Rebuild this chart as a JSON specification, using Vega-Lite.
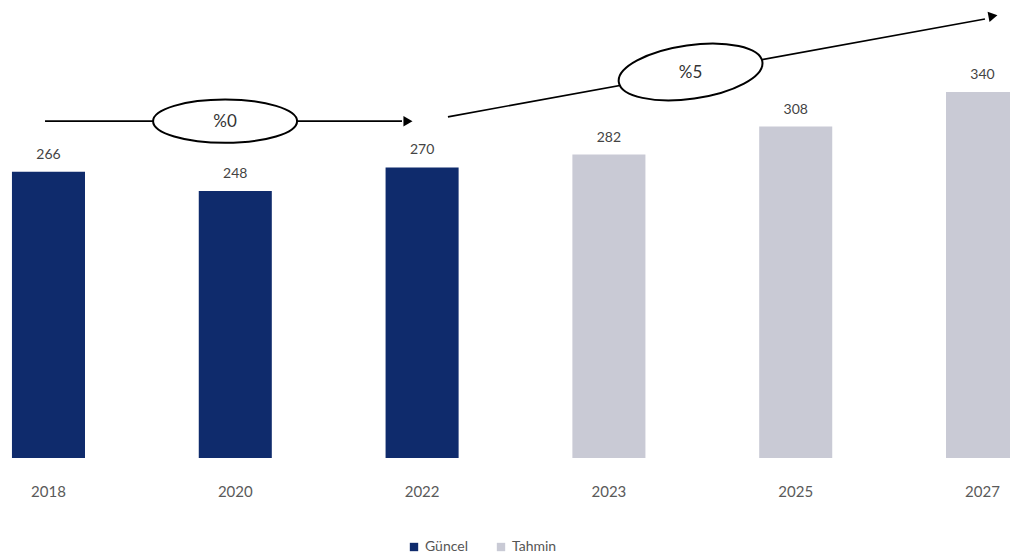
{
  "$schema": "https://vega.github.io/schema/vega-lite/v6.json",
  "width": 1010,
  "height": 452,
  "autosize": {"type": "none"},
  "padding": {"left": 0, "top": 6, "right": 0, "bottom": 102},
  "background": "white",
  "config": {"view": {"stroke": null}, "font": "Lato"},
  "datasets": {
    "bars": [
      {"year": "2018", "value": 266, "type": "Güncel"},
      {"year": "2020", "value": 248, "type": "Güncel"},
      {"year": "2022", "value": 270, "type": "Güncel"},
      {"year": "2023", "value": 282, "type": "Tahmin"},
      {"year": "2025", "value": 308, "type": "Tahmin"},
      {"year": "2027", "value": 340, "type": "Tahmin"}
    ],
    "lines": [
      {"seg": "a", "u": -0.016, "v": 313},
      {"seg": "a", "u": 1.895, "v": 313},
      {"seg": "b", "u": 2.141, "v": 317},
      {"seg": "b", "u": 5.016, "v": 408}
    ],
    "ellipses": [
      {"u": 0.948, "v": 313, "label": "%0"},
      {"u": 3.44, "v": 358.7, "label": "%5"}
    ],
    "heads": [
      {"u": 1.927, "v": 313, "id": "a"},
      {"u": 5.059, "v": 410.7, "id": "b"}
    ]
  },
  "layer": [
    {
      "data": {"name": "bars"},
      "encoding": {
        "x": {
          "field": "year", "type": "ordinal",
          "scale": {"range": [0, 1031], "paddingInner": 0.609, "paddingOuter": 0.064},
          "axis": {"title": null, "labelAngle": 0, "ticks": false, "domain": false, "labelFontSize": 15, "labelColor": "#5a5a5a", "labelPadding": 26}
        },
        "y": {"field": "value", "type": "quantitative", "scale": {"domain": [0, 420]}, "axis": null}
      },
      "layer": [
        {
          "mark": {"type": "bar"},
          "encoding": {
            "color": {
              "field": "type", "type": "nominal",
              "scale": {"domain": ["Güncel", "Tahmin"], "range": ["#0f2b6c", "#c9cad5"]},
              "legend": {"title": null, "orient": "none", "legendX": 407, "legendY": 534, "direction": "horizontal", "symbolType": "square", "symbolSize": 70, "labelFontSize": 14, "labelColor": "#555555", "columnPadding": 26, "labelOffset": 4}
            }
          }
        },
        {
          "mark": {"type": "text", "baseline": "bottom", "dy": -10, "fontSize": 14, "color": "#444444"},
          "encoding": {"text": {"field": "value", "type": "quantitative"}}
        }
      ]
    },
    {
      "data": {"name": "lines"},
      "mark": {"type": "line", "color": "black", "strokeWidth": 1.6},
      "encoding": {
        "x": {"field": "u", "type": "quantitative", "scale": {"domain": [-0.257, 5.15], "nice": false, "zero": false}, "axis": null},
        "y": {"field": "v", "type": "quantitative", "scale": {"domain": [0, 420]}, "axis": null},
        "detail": {"field": "seg"}
      }
    },
    {
      "data": {"name": "ellipses"},
      "transform": [{"filter": "datum.label == '%0'"}],
      "mark": {"type": "point", "shape": "M-1,0A1,0.3,0,1,1,1,0A1,0.3,0,1,1,-1,0Z", "size": 20736, "filled": true, "fill": "white", "stroke": "black", "strokeWidth": 2, "opacity": 1},
      "encoding": {
        "x": {"field": "u", "type": "quantitative", "scale": {"domain": [-0.257, 5.15], "nice": false, "zero": false}, "axis": null},
        "y": {"field": "v", "type": "quantitative", "scale": {"domain": [0, 420]}, "axis": null}
      }
    },
    {
      "data": {"name": "ellipses"},
      "transform": [{"filter": "datum.label == '%5'"}],
      "mark": {"type": "point", "shape": "M-1,0A1,0.37,0,1,1,1,0A1,0.37,0,1,1,-1,0Z", "size": 21025, "angle": -8, "filled": true, "fill": "white", "stroke": "black", "strokeWidth": 2, "opacity": 1},
      "encoding": {
        "x": {"field": "u", "type": "quantitative", "scale": {"domain": [-0.257, 5.15], "nice": false, "zero": false}, "axis": null},
        "y": {"field": "v", "type": "quantitative", "scale": {"domain": [0, 420]}, "axis": null}
      }
    },
    {
      "data": {"name": "ellipses"},
      "mark": {"type": "text", "fontSize": 17, "color": "#333333", "dy": 1},
      "encoding": {
        "x": {"field": "u", "type": "quantitative", "scale": {"domain": [-0.257, 5.15], "nice": false, "zero": false}, "axis": null},
        "y": {"field": "v", "type": "quantitative", "scale": {"domain": [0, 420]}, "axis": null},
        "text": {"field": "label"}
      }
    },
    {
      "data": {"name": "heads"},
      "transform": [{"filter": "datum.id == 'a'"}],
      "mark": {"type": "point", "shape": "triangle-right", "size": 110, "filled": true, "color": "black", "opacity": 1},
      "encoding": {
        "x": {"field": "u", "type": "quantitative", "scale": {"domain": [-0.257, 5.15], "nice": false, "zero": false}, "axis": null},
        "y": {"field": "v", "type": "quantitative", "scale": {"domain": [0, 420]}, "axis": null}
      }
    },
    {
      "data": {"name": "heads"},
      "transform": [{"filter": "datum.id == 'b'"}],
      "mark": {"type": "point", "shape": "triangle-right", "size": 110, "angle": -10.5, "filled": true, "color": "black", "opacity": 1},
      "encoding": {
        "x": {"field": "u", "type": "quantitative", "scale": {"domain": [-0.257, 5.15], "nice": false, "zero": false}, "axis": null},
        "y": {"field": "v", "type": "quantitative", "scale": {"domain": [0, 420]}, "axis": null}
      }
    }
  ],
  "resolve": {"scale": {"x": "independent"}}
}
